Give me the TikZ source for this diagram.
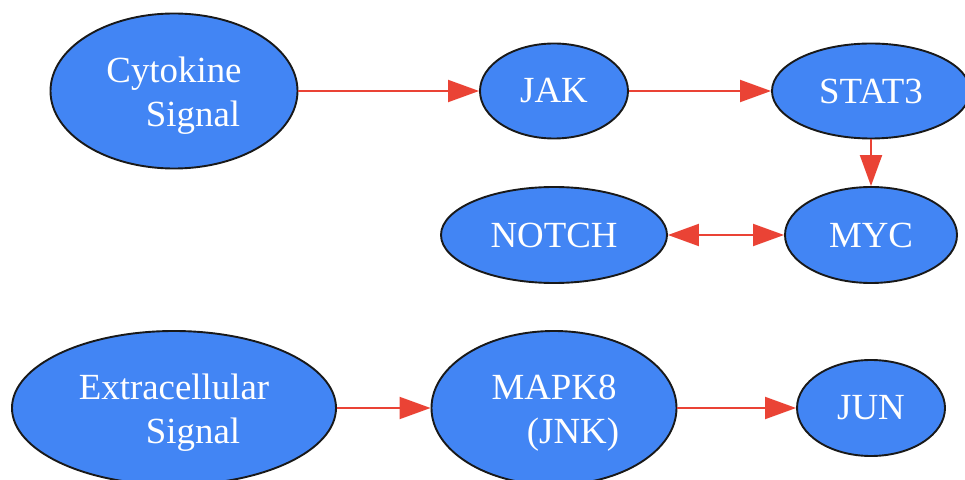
\documentclass[tikz,border=0pt]{standalone}
\usepackage{fontspec}
\setmainfont{Liberation Serif}
\usetikzlibrary{shapes.geometric,arrows.meta}
\definecolor{gblue}{HTML}{4285F4}
\definecolor{gred}{HTML}{EA4335}
\newcommand{\toppad}{\rule{0pt}{35bp}}

\begin{document}
\begin{tikzpicture}[x=1bp, y=-1bp,
     every node/.style={ellipse, draw=black!90, line width=1.9bp, fill=gblue, text=white,
       inner sep=0pt, align=center, font=\fontsize{37}{44}\selectfont},
     link/.style={draw=gred, line width=2bp, -{Triangle[length=31bp, width=22bp]}},
     biglink/.style={link, {Triangle[length=31bp, width=22bp]}-{Triangle[length=31bp, width=22bp]}}]

   \clip (0,0) rectangle (965,480);

   \node[minimum width=247bp, minimum height=155bp] (cytokine) at (174,91) {\toppad Cytokine\\\hspace*{38bp}Signal};
   \node[minimum width=148bp, minimum height=95bp] (jak) at (554,91) {JAK};
   \node[minimum width=198bp, minimum height=95bp] (stat3) at (871,91) {STAT3};
   \node[minimum width=172bp, minimum height=96bp] (myc) at (871,235) {MYC};
   \node[minimum width=226bp, minimum height=96bp] (notch) at (554,235) {NOTCH};
   \node[minimum width=324bp, minimum height=154bp] (extra) at (174,408) {\toppad Extracellular\\\hspace*{38bp}Signal};
   \node[minimum width=245bp, minimum height=154bp] (mapk8) at (554,408) {\toppad MAPK8\\\hspace*{38bp}(JNK)};
   \node[minimum width=148bp, minimum height=96bp] (jun) at (871,408) {JUN};

   \draw[link] (cytokine) -- (jak);
   \draw[link] (jak) -- (stat3);
   \draw[link] (stat3) -- (myc);
   \draw[biglink] (notch) -- (myc);
   \draw[link] (extra) -- (mapk8);
   \draw[link] (mapk8) -- (jun);
  \end{tikzpicture}
\end{document}
